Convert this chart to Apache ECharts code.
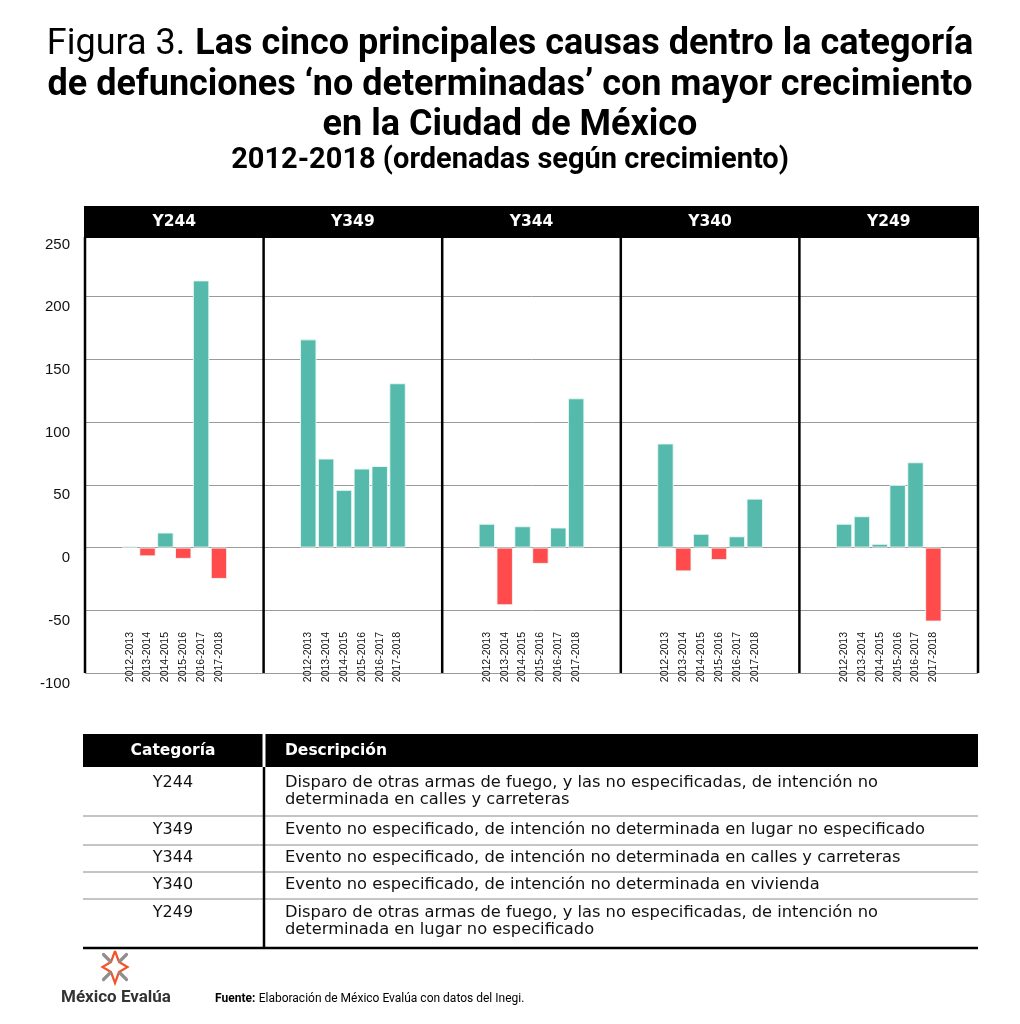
<!DOCTYPE html>
<html>
<head>
<meta charset="utf-8">
<script src="https://cdn.jsdelivr.net/npm/echarts@6/dist/echarts.min.js"></script>
<style>html,body{margin:0;padding:0;background:#fff}#chart{width:1020px;height:1024px}</style>
</head>
<body>
<div id="chart"></div>
<script>
// ---- data ----
const periods = ['2012-2013','2013-2014','2014-2015','2015-2016','2016-2017','2017-2018'];
const causes = ['Y244','Y349','Y344','Y340','Y249'];
const valuesY244 = [1, -7, 12, -9, 213, -25];
const valuesY349 = [166, 71, 46, 63, 65, 131];
const valuesY344 = [19, -46, 17, -13, 16, 119];
const valuesY340 = [83, -19, 11, -10, 9, 39];
const valuesY249 = [19, 25, 3, 50, 68, -59];
const seriesValues = [valuesY244, valuesY349, valuesY344, valuesY340, valuesY249];
const yTicks = [-100, -50, 0, 50, 100, 150, 200, 250];
const tableCodes = ['Y244','Y349','Y344','Y340','Y249'];
const tableDescriptions = [
  'Disparo de otras armas de fuego, y las no especificadas, de intención no\ndeterminada en calles y carreteras',
  'Evento no especificado, de intención no determinada en lugar no especificado',
  'Evento no especificado, de intención no determinada en calles y carreteras',
  'Evento no especificado, de intención no determinada en vivienda',
  'Disparo de otras armas de fuego, y las no especificadas, de intención no\ndeterminada en lugar no especificado'
];

// ---- layout ----
const W = 1020, H = 1024;
const PL = 85, PR = 978, PT = 234, PB = 673;
const panelW = (PR - PL) / 5;
const slot = panelW / 10;
const TEAL = '#55b9ab', RED = '#ff4b4b';
const FONT = 'Liberation Sans, Arial, sans-serif';
const TFONT = 'Roboto, Liberation Sans, sans-serif';
const DFONT = 'DejaVu Sans, sans-serif';

const chart = echarts.init(document.getElementById('chart'), null, {renderer: 'canvas'});

const grids = [{left: PL, right: W - PR, top: PT, bottom: H - PB}];
const xAxes = [{gridIndex: 0, type: 'value', show: false, min: 0, max: 1}];
const yAxes = [{
  gridIndex: 0, type: 'value', min: yTicks[0], max: yTicks[yTicks.length - 1], interval: 50,
  axisLine: {show: false}, axisTick: {show: false},
  axisLabel: {fontFamily: FONT, fontSize: 15, color: '#111', margin: 15, verticalAlign: 'top', padding: [3, 0, 0, 0]},
  splitLine: {lineStyle: {color: '#9a9a9a', width: 1}}
}];
const series = [];
seriesValues.forEach((vals, i) => {
  const gi = i + 1;
  const left = PL + i * panelW + 2 * slot;
  grids.push({left: left, width: 6 * slot, top: PT, bottom: H - PB});
  xAxes.push({
    gridIndex: gi, type: 'category', data: periods, position: 'bottom', offset: -41,
    axisLine: {show: false, onZero: false}, axisTick: {show: false},
    axisLabel: {rotate: 90, margin: 0, fontFamily: FONT, fontSize: 10.5, color: '#111', interval: 0}
  });
  yAxes.push({gridIndex: gi, type: 'value', min: yTicks[0], max: yTicks[yTicks.length - 1], interval: 50, show: false, splitLine: {show: false}});
  series.push({
    type: 'bar', xAxisIndex: gi, yAxisIndex: gi, data: vals, barCategoryGap: '8%',
    itemStyle: {color: p => p.value >= 0 ? TEAL : RED, borderColor: 'rgba(235,248,246,0.9)', borderWidth: 1},
    silent: true
  });
});

const g = [];
// title
g.push({type: 'text', x: 510, y: 45, scaleY: 1.05, style: {
  text: '{r|Figura 3.}{s| }{b|Las cinco principales causas dentro la categoría}', align: 'center', verticalAlign: 'middle',
  rich: {r: {fontFamily: TFONT, fontSize: 36, fontWeight: 'normal', fill: '#000'},
         s: {fontFamily: TFONT, fontSize: 36, fill: '#000', width: 10},
         b: {fontFamily: TFONT, fontSize: 36, fontWeight: 'bold', fill: '#000'}}
}});
g.push({type: 'text', x: 510, y: 86, scaleY: 1.05, style: {text: 'de defunciones ‘no determinadas’ con mayor crecimiento', align: 'center', verticalAlign: 'middle', font: 'bold 36px ' + TFONT, fill: '#000'}});
g.push({type: 'text', x: 510, y: 126, scaleY: 1.05, style: {text: 'en la Ciudad de México', align: 'center', verticalAlign: 'middle', font: 'bold 36px ' + TFONT, fill: '#000'}});
g.push({type: 'text', x: 510, y: 160, scaleY: 1.04, style: {text: '2012-2018 (ordenadas según crecimiento)', align: 'center', verticalAlign: 'middle', font: 'bold 29px ' + TFONT, fill: '#000'}});

// panel header band
g.push({type: 'rect', shape: {x: PL - 1, y: 206, width: PR - PL + 2, height: 32}, style: {fill: '#000'}, z: 5});
causes.forEach((c, i) => {
  g.push({type: 'text', z: 6, style: {text: c, x: PL + (i + 0.5) * panelW, y: 222, align: 'center', verticalAlign: 'middle', font: 'bold 15.5px ' + DFONT, fill: '#fff'}});
});
// panel separators
for (let i = 0; i <= 5; i++) {
  g.push({type: 'line', z: 5, shape: {x1: PL + i * panelW, y1: 237, x2: PL + i * panelW, y2: PB}, style: {stroke: '#000', lineWidth: 2.5}});
}

// table
const TL = 83, TR = 978, TD = 264;
g.push({type: 'rect', shape: {x: TL, y: 734, width: TD - 1.5 - TL, height: 33}, style: {fill: '#000'}});
g.push({type: 'rect', shape: {x: TD + 1.5, y: 734, width: TR - TD - 1.5, height: 33}, style: {fill: '#000'}});
g.push({type: 'text', style: {text: 'Categoría', x: 173, y: 751, align: 'center', verticalAlign: 'middle', font: 'bold 15.5px ' + DFONT, fill: '#fff'}});
g.push({type: 'text', style: {text: 'Descripción', x: 285, y: 751, align: 'left', verticalAlign: 'middle', font: 'bold 15.5px ' + DFONT, fill: '#fff'}});
const rowTextY = [783, 830, 858, 885, 913];
const rowLines = [816, 845, 872, 899];
tableCodes.forEach((c, i) => {
  g.push({type: 'text', style: {text: c, x: 173, y: rowTextY[i], align: 'center', verticalAlign: 'middle', font: '16px ' + DFONT, fill: '#111'}});
  g.push({type: 'text', style: {text: tableDescriptions[i], x: 285, y: rowTextY[i] - 8.5, align: 'left', verticalAlign: 'top', font: '16.3px ' + DFONT, lineHeight: 17, fill: '#111'}});
});
rowLines.forEach(y => g.push({type: 'line', shape: {x1: TL, y1: y, x2: TR, y2: y}, style: {stroke: '#8a8a8a', lineWidth: 1}}));
g.push({type: 'line', shape: {x1: TD, y1: 767, x2: TD, y2: 947}, style: {stroke: '#000', lineWidth: 2.5}});
g.push({type: 'line', shape: {x1: TL, y1: 948, x2: TR, y2: 948}, style: {stroke: '#000', lineWidth: 2.5}});

// logo
const cx = 115, cy = 967;
const starPts = [[0,-16],[4,-5],[12.5,0],[4,5],[0,16],[-4,5],[-12.5,0],[-4,-5],[0,-16]].map(p => [cx + p[0], cy + p[1]]);
g.push({type: 'polyline', shape: {points: starPts}, style: {stroke: '#f0552b', lineWidth: 2.2, fill: null, lineJoin: 'miter'}});
[[1,1],[1,-1],[-1,1],[-1,-1]].forEach(d => {
  g.push({type: 'line', shape: {x1: cx + d[0]*5, y1: cy + d[1]*6, x2: cx + d[0]*11.5, y2: cy + d[1]*12.5}, style: {stroke: '#8f8f8f', lineWidth: 3.2, lineCap: 'round'}});
});
g.push({type: 'text', style: {text: 'México Evalúa', x: 61, y: 998, align: 'left', verticalAlign: 'middle', font: 'bold 17px ' + TFONT, fill: '#333'}});
g.push({type: 'text', style: {text: '{b|Fuente:} {n|Elaboración de México Evalúa con datos del Inegi.}', x: 215, y: 999, align: 'left', verticalAlign: 'middle',
  rich: {b: {font: 'bold 12px ' + TFONT, fill: '#000'}, n: {font: '12px ' + TFONT, fill: '#000'}}}});

chart.setOption({
  animation: false,
  backgroundColor: '#fff',
  grid: grids, xAxis: xAxes, yAxis: yAxes, series: series,
  graphic: g
});
</script>
</body>
</html>
